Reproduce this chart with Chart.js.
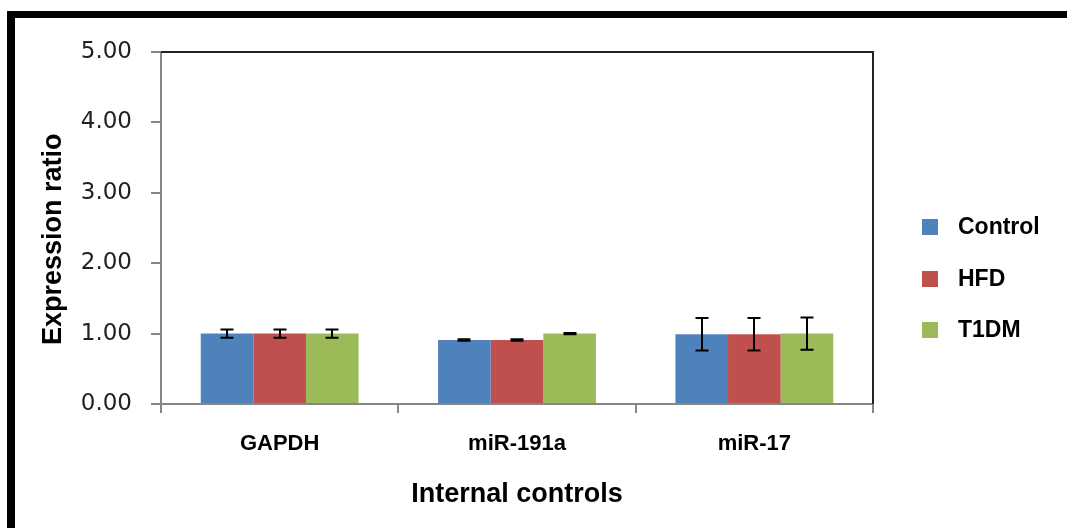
<!DOCTYPE html>
<html><head><meta charset="utf-8">
<script src="https://cdn.jsdelivr.net/npm/chart.js@4"></script>
<style>
html,body{margin:0;padding:0;background:#fff;}
#wrap{position:relative;width:1067px;height:528px;overflow:hidden;background:#fff;}
#frame{position:absolute;left:7px;top:11px;width:1100px;height:600px;border-top:7px solid #000;border-left:8px solid #000;pointer-events:none;}
canvas{position:absolute;left:0;top:0;}
</style></head><body>
<div id="wrap"><canvas id="c" width="1067" height="528"></canvas><div id="frame"></div></div>
<script>
const categories = ['GAPDH', 'miR-191a', 'miR-17'];
const seriesNames = ['Control', 'HFD', 'T1DM'];
const controlValues = [1.00, 0.91, 0.99];
const hfdValues = [1.00, 0.91, 0.99];
const t1dmValues = [1.00, 1.00, 1.00];
const controlErrors = [0.06, 0.01, 0.23];
const hfdErrors = [0.06, 0.01, 0.23];
const t1dmErrors = [0.06, 0.01, 0.23];
const yTickLabels = ['0.00', '1.00', '2.00', '3.00', '4.00', '5.00'];
const seriesColors = ['#4F81BD', '#C0504D', '#9BBB59'];

const errorBars = {
  id: 'errorBars',
  afterDatasetsDraw(chart) {
    const ctx = chart.ctx, y = chart.scales.y;
    chart.data.datasets.forEach((ds, i) => {
      const meta = chart.getDatasetMeta(i);
      meta.data.forEach((bar, j) => {
        const v = ds.data[j], e = ds.errors[j];
        const x = Math.round(bar.x);
        const yt = y.getPixelForValue(v + e), yb = y.getPixelForValue(v - e);
        ctx.save();
        ctx.strokeStyle = '#000';
        ctx.lineWidth = 2;
        ctx.beginPath();
        ctx.moveTo(x, yt); ctx.lineTo(x, yb);
        ctx.moveTo(x - 6.5, yt); ctx.lineTo(x + 6.5, yt);
        ctx.moveTo(x - 6.5, yb); ctx.lineTo(x + 6.5, yb);
        ctx.stroke();
        ctx.restore();
      });
    });
  }
};

const plotFrame = {
  id: 'plotFrame',
  beforeDatasetsDraw(chart) {
    const a = chart.chartArea, ctx = chart.ctx;
    ctx.save();
    ctx.lineWidth = 2;
    ctx.strokeStyle = '#222';
    ctx.beginPath();
    ctx.moveTo(a.left, a.top);
    ctx.lineTo(a.right, a.top);
    ctx.lineTo(a.right, a.bottom);
    ctx.stroke();
    ctx.restore();
  }
};

const sideLegend = {
  id: 'sideLegend',
  afterDraw(chart) {
    const ctx = chart.ctx;
    const startY = 227, step = 51.5;
    ctx.save();
    chart.data.datasets.forEach((ds, i) => {
      const cy = startY + i * step;
      ctx.fillStyle = ds.backgroundColor;
      ctx.fillRect(922, Math.round(cy - 8), 16, 16);
      ctx.fillStyle = '#000';
      ctx.font = 'bold 23px "Liberation Sans", Arial, sans-serif';
      ctx.textBaseline = 'middle';
      ctx.textAlign = 'left';
      ctx.fillText(ds.label, 958, cy + 1);
    });
    ctx.restore();
  }
};

const datasets = [controlValues, hfdValues, t1dmValues].map((vals, i) => ({
  label: seriesNames[i],
  data: vals,
  errors: [controlErrors, hfdErrors, t1dmErrors][i],
  backgroundColor: seriesColors[i],
  borderWidth: 0,
  categoryPercentage: 0.665,
  barPercentage: 1.0
}));

new Chart(document.getElementById('c'), {
  type: 'bar',
  data: { labels: categories, datasets },
  options: {
    responsive: false,
    animation: false,
    devicePixelRatio: 1,
    layout: { padding: { left: 0, top: 52, right: 194, bottom: 0 } },
    plugins: { legend: { display: false }, tooltip: { enabled: false } },
    scales: {
      x: {
        afterFit(scale) { scale.height = 124; },
        grid: { display: true, drawOnChartArea: false, drawTicks: true, tickLength: 9, color: '#868686', lineWidth: 2, offset: true },
        border: { color: '#868686', width: 2 },
        ticks: { font: { family: '"Liberation Sans", Arial, sans-serif', size: 22, weight: 'bold' }, color: '#000', padding: 18, maxRotation: 0 },
        title: { display: true, text: 'Internal controls', color: '#000', font: { family: '"Liberation Sans", Arial, sans-serif', size: 27, weight: 'bold' }, padding: { top: 0, bottom: 17 } }
      },
      y: {
        min: 0, max: 5,
        afterFit(scale) { scale.width = 161; },
        grid: { drawOnChartArea: false, drawTicks: true, tickLength: 10, color: '#868686', lineWidth: 2 },
        border: { color: '#868686', width: 2 },
        ticks: { stepSize: 1, callback: (v, i) => yTickLabels[i], font: { family: '"DejaVu Sans", sans-serif', size: 23 }, color: '#222', padding: 19 },
        title: { display: true, text: 'Expression ratio   ', color: '#000', font: { family: '"Liberation Sans", Arial, sans-serif', size: 27, weight: 'bold' }, padding: { top: 37, bottom: 0 } }
      }
    }
  },
  plugins: [plotFrame, errorBars, sideLegend]
});
</script>
</body></html>
